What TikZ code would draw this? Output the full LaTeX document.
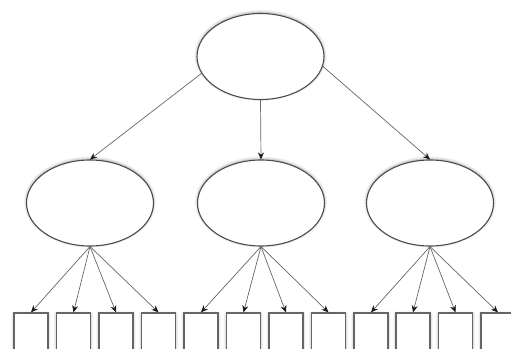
\documentclass[tikz,border=0pt]{standalone}
\usetikzlibrary{shapes.geometric,arrows.meta,shadows.blur}
\tikzset{
  oval/.style={ellipse,draw=black!70,line width=1.1pt,fill=white,inner sep=0pt,
    minimum width=127pt,minimum height=86pt,
    blur shadow={shadow xshift=0pt,shadow yshift=1pt,shadow blur radius=3pt,shadow opacity=35,shadow blur steps=8}},
  sq/.style={rectangle,draw=black!60,line width=1.2pt,fill=white,inner sep=0pt,
    minimum width=34pt,minimum height=37pt,
    blur shadow={shadow xshift=0pt,shadow yshift=-1pt,shadow blur radius=3pt,shadow opacity=35,shadow blur steps=8}},
  conn/.style={draw=black!60,line width=0.7pt,-{Stealth[length=7pt,width=6pt,color=black!90]}}
}
\begin{document}
\begin{tikzpicture}[x=1pt,y=-1pt]
\useasboundingbox (0,0) rectangle (511,348);
\begin{scope}
\clip (0,0) rectangle (511,348);
\node[oval] (top) at (260.5,56.5) {};
\node[oval] (m1) at (90,203) {};
\node[oval] (m2) at (261,203) {};
\node[oval] (m3) at (430,203) {};
\foreach \i/\x in {1/31,2/73.5,3/116,4/158.5,5/201,6/243.5,7/286,8/328.5,9/371,10/413,11/455.5,12/498}
  \node[sq] (b\i) at (\x,331.5) {};
\draw[conn] (top.196) -- (m1.north);
\draw[conn] (top.south) -- (m2.north);
\draw[conn] (top.-9) -- (m3.north);
\foreach \i in {1,2,3,4} \draw[conn] (m1.south) -- (b\i.north);
\foreach \i in {5,6,7,8} \draw[conn] (m2.south) -- (b\i.north);
\foreach \i in {9,10,11,12} \draw[conn] (m3.south) -- (b\i.north);
\end{scope}
\end{tikzpicture}
\end{document}
